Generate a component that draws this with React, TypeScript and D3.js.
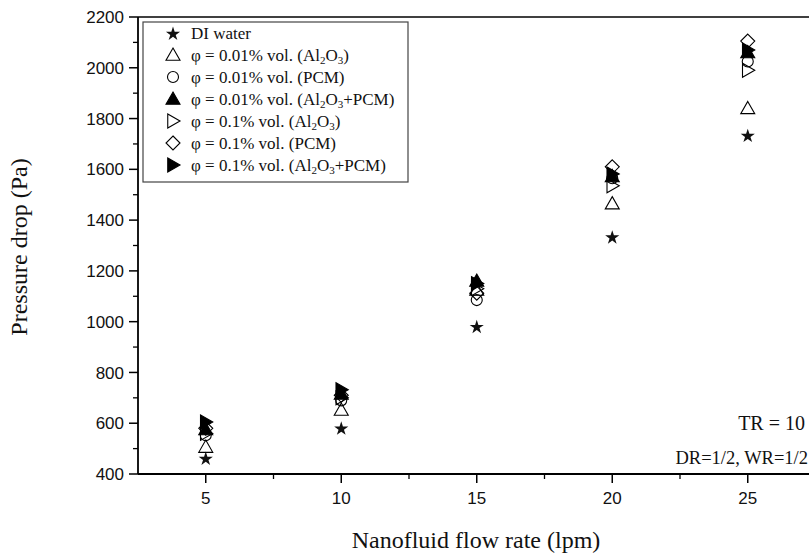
import React from "react";
import * as d3 from "d3";

const flowRates = [5, 10, 15, 20, 25];
const diWater = [463, 582, 982, 1335, 1735];
const al01 = [506, 652, 1125, 1465, 1840];
const pcm01 = [553, 690, 1085, 1565, 2025];
const alPcm01 = [575, 715, 1160, 1572, 2060];
const al1 = [560, 700, 1130, 1535, 1990];
const pcm1 = [580, 710, 1112, 1610, 2105];
const alPcm1 = [605, 732, 1150, 1582, 2070];

const yTicks = [400, 600, 800, 1000, 1200, 1400, 1600, 1800, 2000, 2200];
const xTicks = [5, 10, 15, 20, 25];

type Sym = "star" | "triUp" | "circle" | "triUpFill" | "triRight" | "diamond" | "triRightFill";

const sub = (t: string) => <tspan baselineShift={-2.5} fontSize="11">{t}</tspan>;

const seriesList: { name: string; label: React.ReactNode; values: number[]; sym: Sym }[] = [
  { name: "DI water", label: "DI water", values: diWater, sym: "star" },
  { name: "a", label: <>φ = 0.01% vol. (Al{sub("2")}O{sub("3")})</>, values: al01, sym: "triUp" },
  { name: "b", label: "φ = 0.01% vol. (PCM)", values: pcm01, sym: "circle" },
  { name: "c", label: <>φ = 0.01% vol. (Al{sub("2")}O{sub("3")}+PCM)</>, values: alPcm01, sym: "triUpFill" },
  { name: "d", label: <>φ = 0.1% vol. (Al{sub("2")}O{sub("3")})</>, values: al1, sym: "triRight" },
  { name: "e", label: "φ = 0.1% vol. (PCM)", values: pcm1, sym: "diamond" },
  { name: "f", label: <>φ = 0.1% vol. (Al{sub("2")}O{sub("3")}+PCM)</>, values: alPcm1, sym: "triRightFill" },
];

function Marker({ sym, x, y }: { sym: Sym; x: number; y: number }) {
  const r = 7;
  const stroke = "#000";
  switch (sym) {
    case "star": {
      const p = d3.symbol(d3.symbolStar, 62)();
      return <path d={p || ""} transform={`translate(${x},${y + 1})`} fill="#111" />;
    }
    case "triUp":
    case "triUpFill": {
      const d = `M${x},${y - r} L${x + r},${y + r * 0.75} L${x - r},${y + r * 0.75} Z`;
      return <path d={d} fill={sym === "triUpFill" ? "#000" : "none"} stroke={stroke} strokeWidth={1.1} />;
    }
    case "triRight":
    case "triRightFill": {
      const d = `M${x + r},${y} L${x - r * 0.75},${y - r} L${x - r * 0.75},${y + r} Z`;
      return <path d={d} fill={sym === "triRightFill" ? "#000" : "none"} stroke={stroke} strokeWidth={1.1} />;
    }
    case "circle":
      return <circle cx={x} cy={y} r={5.5} fill="none" stroke={stroke} strokeWidth={1.1} />;
    case "diamond": {
      const d = `M${x},${y - r} L${x + r},${y} L${x},${y + r} L${x - r},${y} Z`;
      return <path d={d} fill="none" stroke={stroke} strokeWidth={1.1} />;
    }
  }
  return null;
}

export default function App() {
  const W = 809, H = 557;
  const left = 138, top = 17;
  const x = d3.scaleLinear().domain([2.5, 27.5]).range([left, 815.5]);
  const y = d3.scaleLinear().domain([400, 2200]).range([474, top]);
  const bottom = y(400);
  const minorY = d3.range(500, 2200, 200);
  const minorX = [7.5, 12.5, 17.5, 22.5];
  const serif = "Liberation Serif, Times New Roman, serif";
  const sans = "Liberation Sans, Arial, sans-serif";

  return (
    <svg width={W} height={H} style={{ position: "absolute", left: 0, top: 0, background: "#fff" }}>
      <rect x={0} y={0} width={W} height={H} fill="#fff" />
      <line x1={left} y1={top} x2={W + 5} y2={top} stroke="#000" strokeWidth={1.6} />
      <line x1={left} y1={top} x2={left} y2={bottom} stroke="#000" strokeWidth={1.8} />
      <line x1={left} y1={bottom} x2={W + 5} y2={bottom} stroke="#000" strokeWidth={1.8} />
      {yTicks.map((t) => (
        <g key={t}>
          <line x1={left - 9} x2={left} y1={y(t)} y2={y(t)} stroke="#000" strokeWidth={1.5} />
          <text x={left - 14} y={y(t)} dy="0.36em" textAnchor="end" fontFamily={sans} fontSize={17} fill="#111">{t}</text>
        </g>
      ))}
      {minorY.map((t) => (
        <line key={t} x1={left - 5} x2={left} y1={y(t)} y2={y(t)} stroke="#000" strokeWidth={1.3} />
      ))}
      {xTicks.map((t) => (
        <g key={t}>
          <line x1={x(t)} x2={x(t)} y1={bottom} y2={bottom + 9} stroke="#000" strokeWidth={1.5} />
          <text x={x(t)} y={bottom + 30} textAnchor="middle" fontFamily={sans} fontSize={17} fill="#111">{t}</text>
        </g>
      ))}
      {minorX.map((t) => (
        <line key={t} x1={x(t)} x2={x(t)} y1={bottom} y2={bottom + 5} stroke="#000" strokeWidth={1.3} />
      ))}
      <text transform={`translate(27,247) rotate(-90)`} textAnchor="middle" fontFamily={serif} fontSize={24} fill="#111">Pressure drop (Pa)</text>
      <text x={476} y={548} textAnchor="middle" fontFamily={serif} fontSize={24} fill="#111">Nanofluid flow rate (lpm)</text>
      {seriesList.map((s) => (
        <g key={s.name}>
          {s.values.map((v, i) => (
            <Marker key={i} sym={s.sym} x={x(flowRates[i])} y={y(v)} />
          ))}
        </g>
      ))}
      <rect x={143} y={22} width={265} height={160} fill="#fff" stroke="#444" strokeWidth={1.2} />
      {seriesList.map((s, i) => {
        const ly = 33 + i * 22;
        return (
          <g key={s.name}>
            <Marker sym={s.sym} x={173} y={ly} />
            <text x={191} y={ly} dy="0.33em" fontFamily={serif} fontSize={17} fill="#111">{s.label}</text>
          </g>
        );
      })}
      <text x={805} y={430} textAnchor="end" fontFamily={serif} fontSize={20} fill="#111">TR = 10</text>
      <text x={808} y={464} textAnchor="end" fontFamily={serif} fontSize={18.5} fill="#111">DR=1/2, WR=1/2</text>
    </svg>
  );
}
